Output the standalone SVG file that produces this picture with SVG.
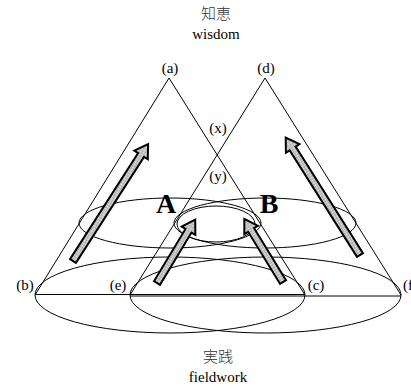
<svg xmlns="http://www.w3.org/2000/svg" width="411" height="389" viewBox="0 0 411 389">
<style>
.ln{fill:none;stroke:#000;stroke-width:1}
.lb{font-family:"Liberation Serif",serif;font-size:15px;fill:#000;text-anchor:middle}
.big{font-family:"Liberation Serif",serif;font-size:28px;font-weight:bold;fill:#000;text-anchor:middle}
.cjk{font-family:"Liberation Serif","Noto Sans CJK JP",serif;font-size:15px;fill:#333;text-anchor:middle;font-weight:300}
.ar{fill:url(#dots);stroke:#000;stroke-width:2;stroke-linejoin:miter}
</style>
<defs>
<pattern id="dots" width="2" height="2" patternUnits="userSpaceOnUse">
<rect width="2" height="2" fill="#e4e4e4"/>
<rect width="1" height="1" fill="#999"/>
<rect x="1" y="1" width="1" height="1" fill="#aaa"/>
</pattern>
<polygon id="bigArrow" class="ar" points="0,-3.5 126,-3.5 126,-8 139,0 126,8 126,3.5 0,3.5"/>
<polygon id="smallArrow" class="ar" points="0,-3.5 61,-3.5 61,-8 74,0 61,8 61,3.5 0,3.5"/>
</defs>
<rect width="411" height="389" fill="#fff"/>
<g id="conn">
<polyline class="ln" points="35,295 169,78 305,295"/>
<polyline class="ln" points="130,295 265,78 401,295"/>
<line class="ln" x1="35" y1="294.5" x2="305" y2="294.5"/>
<line class="ln" x1="130" y1="296" x2="401" y2="296"/>
<ellipse class="ln" cx="170" cy="295" rx="135" ry="38"/>
<ellipse class="ln" cx="265.5" cy="295" rx="135.5" ry="38"/>
<ellipse class="ln" cx="170" cy="223" rx="91" ry="25"/>
<ellipse class="ln" cx="265" cy="223" rx="91" ry="25"/>
<ellipse class="ln" cx="216" cy="224" rx="39" ry="18"/>
<use href="#bigArrow" transform="translate(73,261) rotate(-57.3)"/>
<use href="#bigArrow" transform="translate(360,255) rotate(-122.3)"/>
<use href="#smallArrow" transform="translate(157,283) rotate(-58.9)"/>
<use href="#smallArrow" transform="translate(283,282) rotate(-121.5)"/>
</g>
<g id="wisdom"><text class="cjk" x="216" y="19">知恵</text><text class="lb" x="216" y="39">wisdom</text></g>
<g id="fieldwork"><text class="cjk" x="218" y="362">実践</text><text class="lb" x="218" y="382">fieldwork</text></g>
<g id="a"><text class="lb" x="170" y="73">(a)</text></g>
<g id="d"><text class="lb" x="266" y="73">(d)</text></g>
<g id="x"><text class="lb" x="218" y="133">(x)</text></g>
<g id="y"><text class="lb" x="218" y="181">(y)</text></g>
<g id="b"><text class="lb" x="25" y="290">(b)</text></g>
<g id="e"><text class="lb" x="118" y="290">(e)</text></g>
<g id="c"><text class="lb" x="316" y="290">(c)</text></g>
<g id="f"><text class="lb" x="403" y="290" style="text-anchor:start">(f)</text></g>
<g id="A"><text class="big" x="166" y="213">A</text></g>
<g id="B"><text class="big" x="269" y="213">B</text></g>
</svg>
